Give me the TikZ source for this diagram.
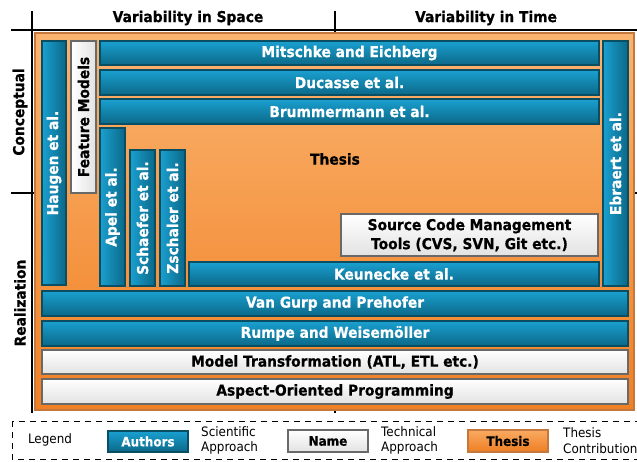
\documentclass[tikz,border=0pt]{standalone}
\usepackage{fontspec}
\setmainfont{DejaVu Sans}[FakeStretch=0.92, BoldFeatures={FakeBold=0.6}]
\usetikzlibrary{backgrounds}
\definecolor{bluetop}{RGB}{26,160,208}
\definecolor{bluebot}{RGB}{11,104,136}
\definecolor{blueedge}{RGB}{10,78,100}
\definecolor{ortop}{RGB}{250,180,112}
\definecolor{orbot}{RGB}{241,128,36}
\definecolor{oredge}{RGB}{196,120,62}
\definecolor{whbot}{RGB}{226,226,226}
\definecolor{whedge}{RGB}{105,105,105}
\definecolor{lthtop}{RGB}{249,170,98}
\definecolor{lthbot}{RGB}{238,126,34}
\tikzset{
  base/.style={inner sep=0pt, outer sep=0pt, anchor=center, align=center, font=\bfseries\fontsize{15}{17}\selectfont},
  bluebox/.style={base, draw=blueedge, line width=1.2pt, top color=bluetop, bottom color=bluebot, text=white},
  vbluebox/.style={base, draw=blueedge, line width=1.2pt, left color=bluetop, right color=bluebot},
  whitebox/.style={base, draw=whedge, line width=1.2pt, top color=white, bottom color=whbot, text=black},
  vwhitebox/.style={base, draw=whedge, line width=1.2pt, left color=white, right color=whbot},
  thesisbg/.style={base, draw=oredge, line width=2pt, top color=ortop, bottom color=orbot},
  thesislg/.style={base, draw=oredge, line width=1.2pt, top color=lthtop, bottom color=lthbot, text=black},
  vtext/.style={font=\bfseries\fontsize{15}{17}\selectfont, inner sep=0pt, rotate=90},
  axis/.style={line width=1.2pt, black},
  heading/.style={font=\bfseries\fontsize{15}{17}\selectfont, inner sep=0pt},
  legtext/.style={font=\fontsize{13}{15.5}\selectfont, inner sep=0pt, align=left, anchor=west},
  legbox/.style={dashed, line width=1pt, dash pattern=on 6pt off 5pt},
}
\newcommand{\hboxnode}[7]{% style, name, x1,y1,x2,y2, text
  \pgfmathsetmacro{\bxw}{#5-#3}\pgfmathsetmacro{\bxh}{#6-#4}
  \node[#1, minimum width=\bxw pt, minimum height=\bxh pt] (#2) at ({(#3+#5)/2},{(#4+#6)/2}) {#7};}
\newcommand{\vboxnode}[8]{% box style, text colour, name, x1,y1,x2,y2, text
  \pgfmathsetmacro{\bxw}{#6-#4}\pgfmathsetmacro{\bxh}{#7-#5}
  \node[#1, minimum width=\bxw pt, minimum height=\bxh pt] (#3) at ({(#4+#6)/2},{(#5+#7)/2}) {};
  \node[vtext, text=#2] (#3-t) at (#3.center) {#8};}
\begin{document}
\begin{tikzpicture}[x=1pt,y=-1pt]
\useasboundingbox (0,0) rectangle (637,461);
\fill[white] (0,0) rectangle (637,461);
% axes
\coordinate (hl1) at (11,30); \coordinate (hr1) at (637,30);
\coordinate (hl2) at (11,193); \coordinate (hr2) at (637,193);
\coordinate (vt1) at (32,11); \coordinate (vb1) at (32,413);
\coordinate (vt2) at (335,11); \coordinate (vb2) at (335,413);
\draw[axis] (hl1) -- (hr1);
\draw[axis] (hl2) -- (hr2);
\draw[axis] (vt1) -- (vb1);
\draw[axis] (vt2) -- (vb2);
\node[heading] (space) at (188,18) {Variability in Space};
\node[heading] (time) at (486,18) {Variability in Time};
\node[heading, rotate=90] (concept) at (20,112) {Conceptual};
\node[heading, rotate=90] (real) at (20,303) {Realization};
% thesis background
\hboxnode{thesisbg}{bg}{35}{33}{634}{410}{}
\node[heading, text=black] (thesis) at (335,159) {Thesis};
% boxes
\vboxnode{vbluebox}{white}{haugen}{42}{41}{66}{285}{Haugen et al.}
\vboxnode{vwhitebox}{black}{fm}{71}{41}{96}{193}{Feature Models}
\hboxnode{bluebox}{mitschke}{100}{41}{599}{65}{Mitschke and Eichberg}
\hboxnode{bluebox}{ducasse}{100}{70}{599}{95}{Ducasse et al.}
\hboxnode{bluebox}{brum}{100}{99}{599}{124}{Brummermann et al.}
\vboxnode{vbluebox}{white}{apel}{100}{128}{125}{286}{Apel et al.}
\vboxnode{vbluebox}{white}{schaefer}{130}{150}{155}{286}{Schaefer et al.}
\vboxnode{vbluebox}{white}{zschaler}{160}{150}{185}{286}{Zschaler et al.}
\hboxnode{bluebox}{keunecke}{189}{262}{599}{286}{Keunecke et al.}
\hboxnode{whitebox, font=\bfseries\fontsize{15}{19}\selectfont}{scm}{341}{214}{598}{256}{Source Code Management\\Tools (CVS, SVN, Git etc.)}
\vboxnode{vbluebox}{white}{ebraert}{603}{41}{628}{286}{Ebraert et al.}
\hboxnode{bluebox}{vangurp}{42}{291}{628}{316}{Van Gurp and Prehofer}
\hboxnode{bluebox}{rumpe}{42}{321}{628}{346}{Rumpe and Weisemöller}
\hboxnode{whitebox}{mt}{42}{350}{628}{374}{Model Transformation (ATL, ETL etc.)}
\hboxnode{whitebox}{aop}{42}{379}{628}{404}{Aspect-Oriented Programming}
% legend
\coordinate (lg1) at (12,421); \coordinate (lg2) at (646,459);
\draw[legbox] (lg1) rectangle (lg2);
\node[legtext, anchor=center] (legend) at (50,440) {Legend};
\hboxnode{bluebox, font=\bfseries\fontsize{13}{15}\selectfont}{lauth}{108}{431}{188}{452}{Authors}
\node[legtext] (lsci) at (201,440.5) {Scientific\\Approach};
\hboxnode{whitebox, font=\bfseries\fontsize{13}{15}\selectfont}{lname}{288}{430}{368}{452}{Name}
\node[legtext] (ltech) at (381,440.5) {Technical\\Approach};
\hboxnode{thesislg, font=\bfseries\fontsize{13}{15}\selectfont}{lthesis}{468}{430}{548}{452}{Thesis}
\node[legtext] (lcontr) at (563,440.5) {Thesis\\Contribution};
\end{tikzpicture}
\end{document}
